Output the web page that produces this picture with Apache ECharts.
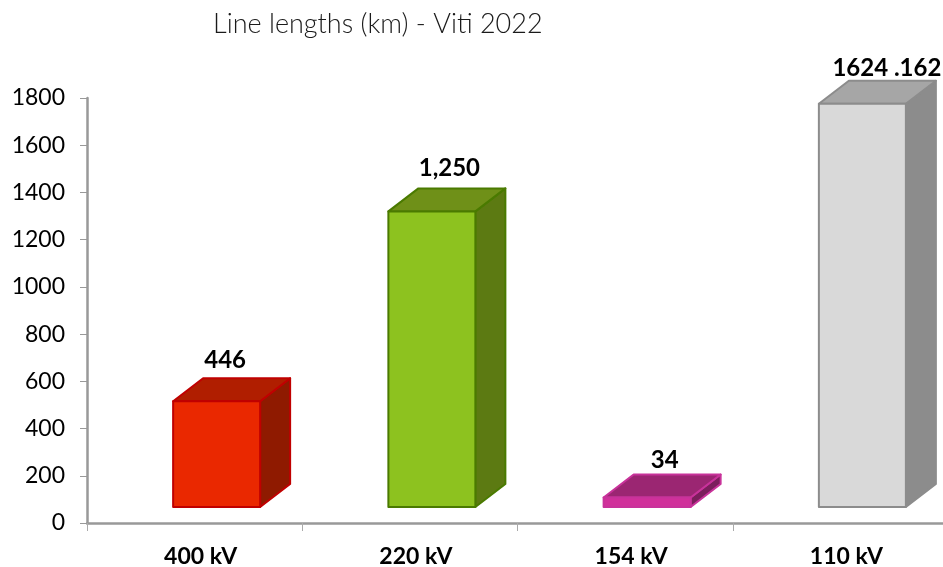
<!DOCTYPE html>
<html>
<head>
<meta charset="utf-8">
<style>
html,body{margin:0;padding:0;background:#fff}
#chart_1{width:943px;height:567px}
</style>
<script src="https://cdn.jsdelivr.net/npm/echarts@6/dist/echarts.min.js"></script>
</head>
<body>
<div id="chart_1"></div>
<script>
var categories = ['400 kV', '220 kV', '154 kV', '110 kV']
// drawn height of each bar, the last one stands taller than its label says
var barValues = [448, 1252, 40, 1708]
var barLabels = ['446', '1,250', '34', '1624 .162']
var yTicks = [0, 200, 400, 600, 800, 1000, 1200, 1400, 1600, 1800]

// front, edge, top, side
var barColors = [
    ['#ea2800', '#c00000', '#b01e00', '#8f1a00'],
    ['#8dc21f', '#4a7a00', '#6f9018', '#5c7a12'],
    ['#d0309a', '#c8329a', '#9b2672', '#7b1e5c'],
    ['#d9d9d9', '#8c8c8c', '#a6a6a6', '#8c8c8c']
]
// label shift from the category centre, and above the back edge
var labelShift = [[30.5, 18], [39.5, 20], [39.5, 14], [46.5, 12]]

var fontName = 'Lato, "Noto Sans", sans-serif'
var lift = 16, depthX = 30, depthY = 23, frontW = 87, frontShift = -21.5

function drawBar(params, api) {
    var i = api.value(0)
    var top = api.coord([i, api.value(1)])
    var zero = api.coord([i, 0])
    var c = barColors[i]
    var x0 = top[0] + frontShift, x1 = x0 + frontW
    var y0 = top[1] - lift, y1 = zero[1] - lift
    var edge = { stroke: c[1], lineWidth: 2, lineJoin: 'round' }
    function face(points, fill) {
        return {
            type: 'polygon',
            shape: { points: points },
            style: { fill: fill, stroke: edge.stroke, lineWidth: edge.lineWidth, lineJoin: edge.lineJoin }
        }
    }
    return {
        type: 'group',
        children: [
            face([[x1, y0], [x1 + depthX, y0 - depthY], [x1 + depthX, y1 - depthY], [x1, y1]], c[3]),
            face([[x0, y0], [x0 + depthX, y0 - depthY], [x1 + depthX, y0 - depthY], [x1, y0]], c[2]),
            face([[x0, y0], [x1, y0], [x1, y1], [x0, y1]], c[0]),
            {
                type: 'text',
                style: {
                    x: top[0] + labelShift[i][0],
                    y: y0 - depthY - labelShift[i][1],
                    text: barLabels[i],
                    fill: '#000',
                    font: 'bold 24px ' + fontName,
                    align: 'center',
                    verticalAlign: 'middle'
                }
            }
        ]
    }
}

var seriesData = []
for (var i = 0; i < categories.length; i++) {
    seriesData.push([i, barValues[i]])
}

var char1 = echarts.init(document.getElementById('chart_1'))
var option1 = {
    animation: false,
    title: {
        text: 'Line lengths (km) - Viti 2022',
        left: 208,
        top: 6,
        textStyle: { color: '#1a1a1a', fontSize: 27, fontWeight: 300, fontFamily: fontName }
    },
    grid: { left: 87, width: 861, top: 98, height: 425, outerBoundsMode: 'none' },
    xAxis: {
        type: 'category',
        data: categories,
        axisLine: { lineStyle: { color: '#999', width: 2.5 } },
        axisTick: { show: true, alignWithLabel: false, length: 8, lineStyle: { color: '#aaa', width: 1 } },
        axisLabel: {
            color: '#000',
            fontSize: 23,
            fontWeight: 'bold',
            fontFamily: fontName,
            margin: 22,
            padding: [0, 0, 0, 12]
        }
    },
    yAxis: {
        type: 'value',
        min: yTicks[0],
        max: yTicks[yTicks.length - 1],
        interval: 200,
        splitLine: { show: false },
        axisLine: { show: true, lineStyle: { color: '#999', width: 2.5 } },
        axisTick: { show: true, length: 7, lineStyle: { color: '#999', width: 1 } },
        axisLabel: {
            color: '#000',
            fontSize: 23,
            fontFamily: fontName,
            margin: 22,
            formatter: function (v) { return String(v) }
        }
    },
    series: [{
        type: 'custom',
        renderItem: drawBar,
        clip: false,
        encode: { x: 0, y: 1 },
        data: seriesData
    }]
}
char1.setOption(option1)
</script>
</body>
</html>
